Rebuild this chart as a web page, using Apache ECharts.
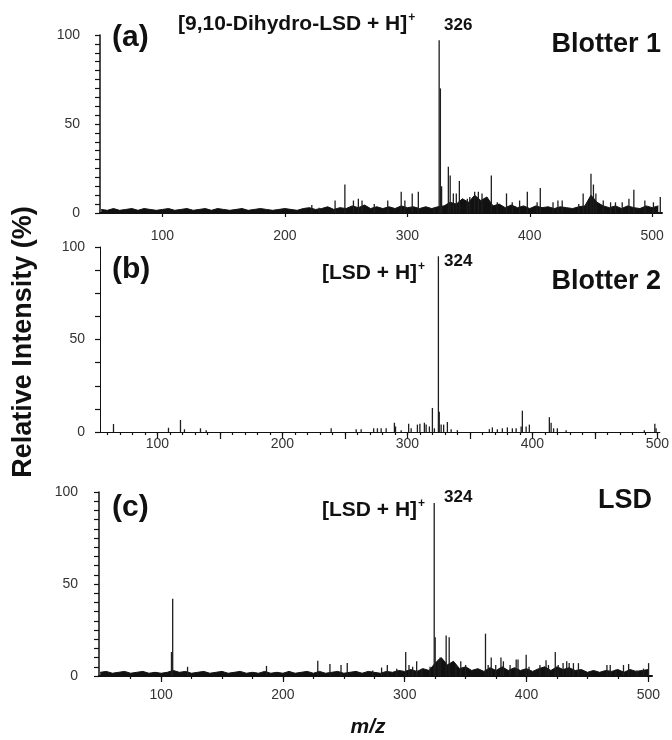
<!DOCTYPE html>
<html>
<head>
<meta charset="utf-8">
<script src="https://cdn.jsdelivr.net/npm/echarts@6/dist/echarts.min.js"></script>
<style>
html, body { margin: 0; padding: 0; background: #fff; }
#chart { width: 672px; height: 740px; }
</style>
</head>
<body>
<div id="chart"></div>
<script>
// m/z tick labels
var mzLabels = [100, 200, 300, 400, 500]

// (a) Blotter 1 - peaks
var aMz = [222, 228, 241, 249, 256, 260, 263, 273, 284, 295, 298, 304, 309, 322, 326, 327, 328, 333.5, 335, 337.6, 340, 342.5, 349, 351, 355, 358, 361, 368.6, 373.5, 381, 385.7, 391.7, 398, 406, 408.6, 419, 423, 426.5, 440, 443.6, 447, 450, 452, 454, 460, 466, 470, 475.5, 481, 485, 494, 501, 506.6]
var aInt = [4.5, 3, 7, 16, 7, 8, 7, 5, 7, 12, 7, 11, 12, 3, 97, 70, 15, 26, 21, 11, 11, 18, 8, 9, 12, 12, 11, 21, 6, 11, 6, 7, 12, 6, 14, 6, 7, 7, 5, 11, 5, 22, 16, 11, 7, 6, 6, 6, 8, 13, 7, 6, 9]
// (a) baseline noise envelope, every 5 m/z from 50
var aNoiseMz = [50, 55, 60, 65, 70, 75, 80, 85, 90, 95, 100, 105, 110, 115, 120, 125, 130, 135, 140, 145, 150, 155, 160, 165, 170, 175, 180, 185, 190, 195, 200, 205, 210, 215, 220, 225, 230, 235, 240, 245, 250, 255, 260, 265, 270, 275, 280, 285, 290, 295, 300, 305, 310, 315, 320, 325, 330, 335, 340, 345, 350, 355, 360, 365, 370, 375, 380, 385, 390, 395, 400, 405, 410, 415, 420, 425, 430, 435, 440, 445, 450, 455, 460, 465, 470, 475, 480, 485, 490, 495, 500, 505]
var aNoise = [2, 1.5, 2.5, 1.5, 2, 2.5, 1.5, 2.5, 2, 1.5, 2, 2.5, 1.5, 2, 2.5, 1.5, 2, 2.5, 1.5, 2.5, 2, 1.5, 2, 2.5, 1.5, 2, 2.5, 2, 1.5, 2, 2.5, 2, 1.5, 2.5, 3, 2, 2.5, 3.5, 2, 3, 2.5, 4, 3, 4.5, 2.5, 3.5, 2.5, 3.5, 2.5, 4, 3, 3.5, 2.5, 3.5, 2.5, 3.5, 4, 6, 5, 8, 6, 10, 7, 9, 4, 5, 3, 4.5, 3, 4, 2.5, 4, 3, 3.5, 2.5, 3.5, 3, 2.5, 3.5, 4, 10, 6, 4, 3, 4, 2.5, 4, 3, 2.5, 4, 3, 4]

// (b) Blotter 2 - peaks
var bMz = [64.8, 108.8, 118.4, 121.6, 134.4, 139, 239, 259, 263, 273, 276, 279, 283, 289.6, 290.5, 295, 301, 303, 308, 310, 313.6, 315, 317.6, 320, 321.6, 324.8, 325.5, 327, 329, 332, 335, 340, 365.6, 368, 372, 376, 380, 384, 387, 391, 392, 395, 397.6, 413.6, 415, 417, 420, 427, 489.6, 498, 499]
var bInt = [4.3, 2.3, 6.5, 1.5, 2, 1, 2, 1.5, 1.5, 2, 2, 2, 2, 5, 3, 1, 4.5, 2, 4, 4.5, 5, 4, 3, 13, 2, 95, 11, 4, 4, 5.4, 1.5, 1, 1.5, 2.5, 1.5, 2, 2.5, 2, 2, 3, 11.5, 3, 4, 8, 5, 2, 2, 1, 1, 4.5, 2]

// (c) LSD - peaks
var cMz = [108.5, 109.5, 121.7, 186.5, 228.6, 238.6, 247.7, 252.8, 273.7, 281, 285.7, 293.4, 300.8, 303.5, 306.5, 309.8, 314, 320.8, 324.2, 325, 327.6, 329, 334, 336.5, 342, 346, 350, 366.3, 368.5, 371, 374.7, 379, 381, 386.5, 391.5, 393, 399.7, 402, 411, 416, 418, 423.6, 426, 430, 433, 435, 438.5, 442.6, 466, 468.7, 473.4, 479.6, 483.8, 490.6, 496, 500.2]
var cInt = [13, 42, 5, 5.5, 8.3, 6.5, 6, 7, 3, 4.6, 6, 4, 13, 6, 5, 8, 4, 5, 94, 21, 9, 10, 22, 21, 6, 8, 6, 23, 6, 10, 6, 10, 8, 6, 9, 9, 11.5, 5, 6, 8.5, 6, 13, 6, 7, 8, 7, 7, 7, 6, 6, 3.5, 6, 6.5, 3, 4, 7]
// (c) baseline noise envelope, every 5 m/z from 50
var cNoiseMz = [50, 55, 60, 65, 70, 75, 80, 85, 90, 95, 100, 105, 110, 115, 120, 125, 130, 135, 140, 145, 150, 155, 160, 165, 170, 175, 180, 185, 190, 195, 200, 205, 210, 215, 220, 225, 230, 235, 240, 245, 250, 255, 260, 265, 270, 275, 280, 285, 290, 295, 300, 305, 310, 315, 320, 325, 330, 335, 340, 345, 350, 355, 360, 365, 370, 375, 380, 385, 390, 395, 400, 405, 410, 415, 420, 425, 430, 435, 440, 445, 450, 455, 460, 465, 470, 475, 480, 485, 490, 495, 500]
var cNoise = [2, 2.5, 1.5, 2, 2.5, 1.5, 2, 2.5, 1.5, 2, 1.5, 2, 3, 2, 2.5, 1.5, 2, 2.5, 1.5, 2, 2.5, 1.5, 2, 2.5, 1.5, 2, 1.5, 2.5, 1.5, 2, 1.5, 2.5, 1.5, 2, 2.5, 1.5, 2.5, 1.5, 2, 2.5, 1.5, 2, 2.5, 1.5, 2.5, 2, 1.5, 2.5, 2, 3, 2.5, 3.5, 2.5, 4, 3, 7, 10, 6, 8, 4, 5, 3, 4, 2.5, 4.5, 3, 5, 3, 4.5, 3, 4, 2.5, 4, 5, 3, 5, 3.5, 4.5, 3, 3.5, 2, 3, 2, 3, 2.5, 3.5, 2, 3.5, 2.5, 3, 3.5]

function zip(xs, ys) {
  var out = []
  for (var i = 0; i < xs.length; i++) out.push([xs[i], ys[i]])
  return out
}
function steps(from, to, step) {
  var out = []
  for (var v = from; v <= to; v += step) out.push(v)
  return out
}

var FONT = 'Liberation Sans, Arial, sans-serif'
var INK = '#111'

function xAx(grid, min, max, tickVals, tickLen, labelMargin, showLabel, lineWidth) {
  return {
    gridIndex: grid,
    type: 'value',
    position: 'bottom',
    min: min,
    max: max,
    splitLine: { show: false },
    axisLine: { show: showLabel, onZero: false, lineStyle: { color: INK, width: lineWidth } },
    axisTick: { show: true, customValues: tickVals, length: tickLen, lineStyle: { color: INK, width: 1.2 } },
    axisLabel: {
      show: showLabel,
      customValues: mzLabels,
      margin: labelMargin,
      fontSize: 14,
      fontFamily: FONT,
      color: '#333'
    }
  }
}
function yAx(grid, tickStep, labelMargin, lineWidth) {
  return {
    gridIndex: grid,
    type: 'value',
    min: 0,
    max: 100,
    interval: 50,
    splitLine: { show: false },
    axisLine: { show: true, onZero: false, lineStyle: { color: INK, width: lineWidth } },
    axisTick: { show: true, customValues: steps(0, 100, tickStep), length: 5, lineStyle: { color: INK, width: 1.2 } },
    axisLabel: { customValues: [0, 50, 100], margin: labelMargin, fontSize: 14, fontFamily: FONT, color: '#333' }
  }
}
function sticks(xi, data) {
  return {
    type: 'bar',
    xAxisIndex: xi,
    yAxisIndex: xi,
    barWidth: 1.3,
    itemStyle: { color: '#1e1e1e' },
    data: data,
    silent: true,
    z: 3
  }
}
function noise(xi, data) {
  return {
    type: 'line',
    xAxisIndex: xi,
    yAxisIndex: xi,
    data: data,
    symbol: 'none',
    lineStyle: { color: INK, width: 1 },
    areaStyle: { color: INK, opacity: 1 },
    silent: true,
    z: 2
  }
}
function label(text, x, y, size, align, extra) {
  var el = {
    type: 'text',
    x: x,
    y: y,
    style: {
      text: text,
      font: 'bold ' + size + 'px ' + FONT,
      fill: INK,
      align: align,
      verticalAlign: 'middle',
      textAlign: align,
      textVerticalAlign: 'middle'
    }
  }
  if (extra) Object.assign(el.style, extra)
  return el
}
function ionLabel(body, x, y) {
  return label('{a|' + body + '}{s|+}', x, y, 21, 'left', {
    rich: {
      a: { fontSize: 21, fontWeight: 'bold', fontFamily: FONT, color: INK, lineHeight: 24, verticalAlign: 'middle' },
      s: { fontSize: 12, fontWeight: 'bold', fontFamily: FONT, color: INK, lineHeight: 24, verticalAlign: 'top', padding: [0, 0, 0, 1] }
    }
  })
}

var chart = echarts.init(document.getElementById('chart'), null, { renderer: 'canvas' })

var option = {
  backgroundColor: '#fff',
  animation: false,
  grid: [
    { left: 100, top: 35, width: 562, height: 178 },
    { left: 100, top: 247, width: 560, height: 185 },
    { left: 99, top: 492, width: 553, height: 184 }
  ],
  xAxis: [
    xAx(0, 49, 508, mzLabels, 4, 16, true, 2),
    xAx(1, 54, 502, steps(60, 500, 10), 3, 5, true, 1),
    xAx(2, 49, 503, steps(75, 500, 25), 3, 12, true, 2),
    xAx(1, 54, 502, steps(100, 500, 50), 7, 5, false, 1),
    xAx(2, 49, 503, mzLabels, 6, 12, false, 2)
  ],
  yAxis: [
    yAx(0, 5, 20, 1.5),
    yAx(1, 12.5, 15, 1),
    yAx(2, 5, 21, 1.5)
  ],
  series: [
    noise(0, zip(aNoiseMz, aNoise)),
    sticks(0, zip(aMz, aInt)),
    sticks(1, zip(bMz, bInt)),
    noise(2, zip(cNoiseMz, cNoise)),
    sticks(2, zip(cMz, cInt))
  ],
  graphic: [
    label('(a)', 112, 38, 30, 'left'),
    ionLabel('[9,10-Dihydro-LSD + H]', 178, 24),
    label('326', 444, 25, 17, 'left'),
    label('Blotter 1', 661, 45, 27, 'right'),

    label('(b)', 112, 270, 30, 'left'),
    ionLabel('[LSD + H]', 322, 273),
    label('324', 444, 261, 17, 'left'),
    label('Blotter 2', 661, 282, 27, 'right'),

    label('(c)', 112, 508, 30, 'left'),
    ionLabel('[LSD + H]', 322, 510),
    label('324', 444, 497, 17, 'left'),
    label('LSD', 652, 501, 27, 'right'),

    {
      type: 'text',
      x: 24,
      y: 342,
      rotation: Math.PI / 2,
      style: {
        text: 'Relative Intensity (%)',
        font: 'bold 27px ' + FONT,
        fill: INK,
        align: 'center',
        verticalAlign: 'middle',
        textAlign: 'center',
        textVerticalAlign: 'middle'
      }
    },
    label('m/z', 368, 727, 21, 'center', { font: 'italic bold 21px ' + FONT })
  ]
}

chart.setOption(option)
</script>
</body>
</html>
